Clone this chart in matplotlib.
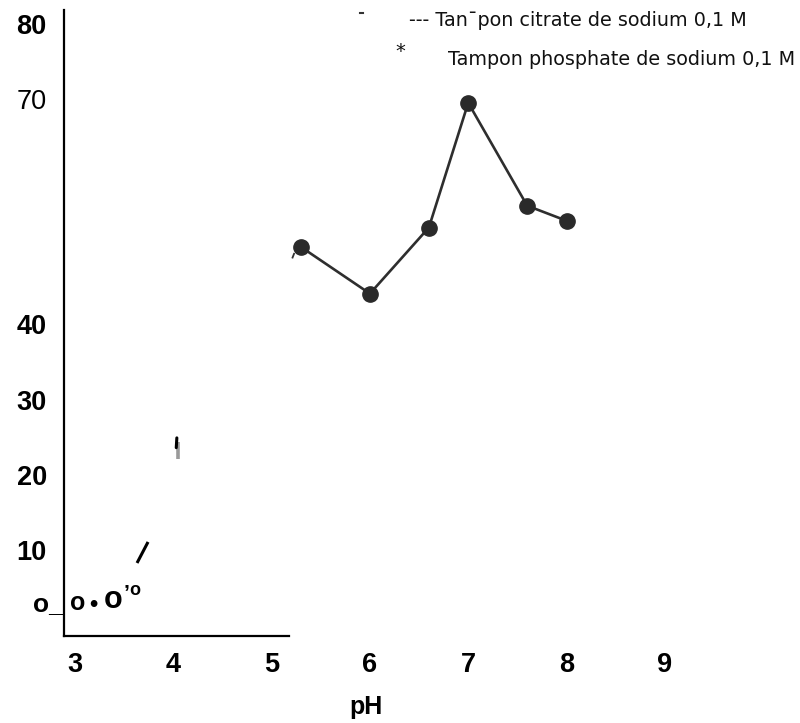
import matplotlib
matplotlib.use("Agg")
import matplotlib.pyplot as plt

# enzyme activity vs pH, sodium phosphate buffer 0.1 M
ph_phosphate = [5.3, 6.0, 6.6, 7.0, 7.6, 8.0]
act_phosphate = [50.3, 44.1, 52.9, 69.5, 55.8, 53.8]

# x/y tick values and labels
x_ticks = [3, 4, 5, 6, 7, 8, 9]
x_labels = ["3", "4", "5", "6", "7", "8", "9"]
y_ticks = [10, 20, 30, 40, 70, 80]
y_labels = ["10", "20", "30", "40", "70", "80"]

legend_citrate = "--- Tan\u02c9pon citrate de sodium 0,1 M"
legend_phosphate = "Tampon phosphate de sodium 0,1 M"

# citrate buffer points near zero (printed as small glyphs)
citrate_glyphs = ["o_", "o", "\u2022", "o", "\u2019", "o"]
citrate_x = [2.57, 2.95, 3.15, 3.29, 3.49, 3.55]
citrate_y = [1.9, 2.0, 1.9, 2.3, 3.6, 4.0]
citrate_size = [19, 18, 17, 22, 15, 13]

bold = dict(family="Liberation Sans", fontweight="bold")

fig = plt.figure(figsize=(8, 7.23), dpi=100)
ax = fig.add_axes([63.5 / 800, (723 - 635.5) / 723, 1 - 63.5 / 800, (635.5 - 10) / 723])
ax.set_xlim(2.883, 10.375)
ax.set_ylim(-1.40, 81.85)

ax.plot(ph_phosphate, act_phosphate, color="#2e2e2e", lw=1.9,
        marker="o", ms=11, mfc="#2a2a2a", mec="#2a2a2a", zorder=3)

for g, x, y, s in zip(citrate_glyphs, citrate_x, citrate_y, citrate_size):
    ax.text(x, y, g, fontsize=s, ha="left", va="baseline", color="black",
            clip_on=False, **bold)

# stray strokes of the citrate curve
ax.plot([3.631, 3.743], [8.25, 11.05], color="black", lw=2.2, solid_capstyle="butt")
ax.plot([4.043, 4.043], [22.1, 24.3], color="#9a9a9a", lw=2.6, solid_capstyle="butt")
ax.plot([4.030, 4.036], [23.6, 24.9], color="black", lw=2.2, solid_capstyle="round")
ax.plot([5.213, 5.228], [48.9, 49.4], color="#333333", lw=1.3)
ax.plot([5.900, 5.925], [81.4, 81.4], color="#333333", lw=1.5, clip_on=False)

# legend written as text
ax.text(6.398, 80.5, legend_citrate, fontsize=13.8, family="DejaVu Sans",
        ha="left", va="center", color="#111111", clip_on=False)
ax.text(6.306, 76.3, "*", fontsize=14, family="DejaVu Sans",
        ha="center", va="center", color="#111111")
ax.text(6.794, 75.2, legend_phosphate, fontsize=13.8, family="DejaVu Sans",
        ha="left", va="center", color="#111111")

ax.set_xticks(x_ticks)
ax.set_xticklabels(x_labels, fontsize=19.5, **bold)
ax.set_yticks(y_ticks)
ax.set_yticklabels(y_labels, fontsize=19.5, **bold)
for lab in ax.get_yticklabels():
    if lab.get_text() == "70":
        lab.set_fontweight("normal")
ax.tick_params(axis="x", length=0, pad=12)
ax.tick_params(axis="y", length=0, pad=12)

ax.set_xlabel("pH", fontsize=18, labelpad=18, **bold)
ax.xaxis.set_label_coords((366 - 63.5) / 736.5, -0.095)

for side in ["top", "right"]:
    ax.spines[side].set_visible(False)
ax.spines["left"].set_linewidth(1.6)
ax.spines["bottom"].set_linewidth(1.6)
ax.spines["bottom"].set_bounds(2.883, 5.177)

fig.savefig("out.png", dpi=100)
